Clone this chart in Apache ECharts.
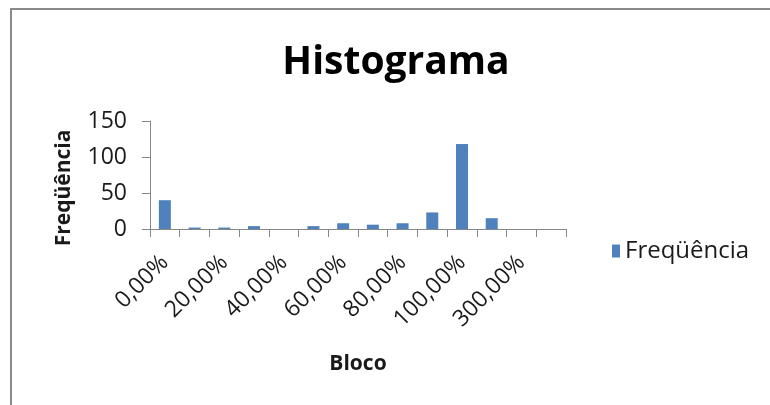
<!DOCTYPE html>
<html>
<head>
<meta charset="utf-8">
<script src="https://cdn.jsdelivr.net/npm/echarts@6/dist/echarts.min.js"></script>
<style>
html,body{margin:0;padding:0;background:#fff;}
#chart{width:770px;height:405px;}
</style>
</head>
<body>
<div id="chart"></div>
<script>
const categories = ['0,00%','10,00%','20,00%','30,00%','40,00%','50,00%','60,00%','70,00%','80,00%','90,00%','100,00%','200,00%','300,00%','Mais'];
const frequencia = [40, 2, 2, 4, 0, 4, 8, 6, 8, 23, 118, 15, 0, 0];
const yTicks = {min: 0, max: 150, interval: 50};
const seriesName = 'Freqüência';

const chart = echarts.init(document.getElementById('chart'), null, {renderer: 'canvas'});
const FONT = '"Open Sans", "Noto Sans", sans-serif';
const axisColor = '#868686';
const textColor = '#1a1a1a';

chart.setOption({
  animation: false,
  backgroundColor: '#ffffff',
  graphic: [{
    type: 'rect',
    shape: {x: 11, y: 9, width: 800, height: 450},
    style: {fill: 'none', stroke: '#8a8a8a', lineWidth: 2},
    silent: true,
    z: -1
  }],
  title: {
    text: 'Histograma',
    left: 391,
    textAlign: 'center',
    top: 38,
    textStyle: {fontFamily: FONT, fontWeight: 'bold', fontSize: 39, color: '#000'}
  },
  legend: {
    data: [seriesName],
    left: 612,
    top: 239,
    padding: 0,
    itemWidth: 8,
    itemHeight: 13,
    itemGap: 5,
    icon: 'rect',
    textStyle: {fontFamily: FONT, fontSize: 24, color: textColor}
  },
  grid: {left: 150, right: 204, top: 121, bottom: 176, containLabel: false},
  xAxis: {
    type: 'category',
    data: categories,
    boundaryGap: true,
    name: 'Bloco',
    nameLocation: 'middle',
    nameGap: 125,
    nameTextStyle: {fontFamily: FONT, fontWeight: 'bold', fontSize: 21, color: textColor},
    axisLine: {lineStyle: {color: axisColor, width: 1}},
    axisTick: {show: true, interval: 0, length: 8, lineStyle: {color: axisColor}},
    axisLabel: {interval: 1, rotate: 45, margin: 30, fontFamily: FONT, fontSize: 23, color: textColor},
    splitLine: {show: false}
  },
  yAxis: {
    type: 'value',
    min: yTicks.min,
    max: yTicks.max,
    interval: yTicks.interval,
    name: 'Freqüência',
    nameLocation: 'middle',
    nameRotate: 90,
    nameGap: 75,
    nameTextStyle: {fontFamily: FONT, fontWeight: 'bold', fontSize: 21, color: textColor, padding: [0, 26, 0, 0]},
    axisLine: {show: true, lineStyle: {color: axisColor, width: 1}},
    axisTick: {show: true, length: 8, lineStyle: {color: axisColor}},
    axisLabel: {margin: 23, fontFamily: FONT, fontSize: 23, color: textColor},
    splitLine: {show: false}
  },
  series: [{
    name: seriesName,
    type: 'bar',
    data: frequencia,
    barWidth: 12,
    itemStyle: {color: '#4F81BD'}
  }]
});
</script>
</body>
</html>
